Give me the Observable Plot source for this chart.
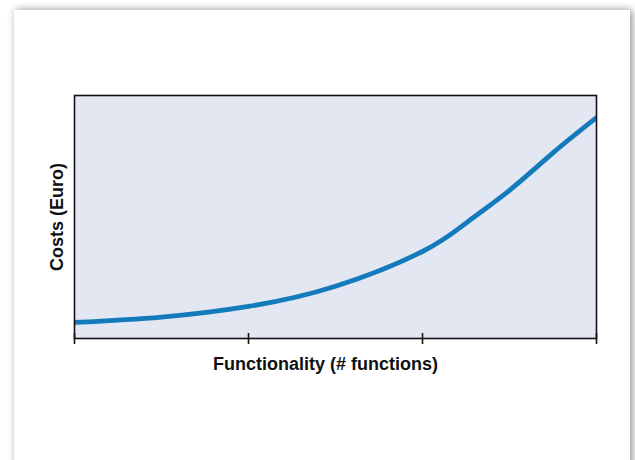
<!DOCTYPE html>
<html>
<head>
<meta charset="utf-8">
<script src="https://cdn.jsdelivr.net/npm/d3@7"></script>
<script src="https://cdn.jsdelivr.net/npm/@observablehq/plot@0.6"></script>
<style>
  html, body { margin: 0; padding: 0; background: #ffffff; }
  #page { position: relative; width: 635px; height: 460px; overflow: hidden; background: #ffffff; }
  #card { position: absolute; left: 14px; top: 10px; width: 616px; height: 480px; background: #ffffff;
          box-shadow: 2px 0 8px rgba(0,0,0,0.45); }
  #chart { position: absolute; left: 0; top: 0; }
</style>
</head>
<body>
<div id="page">
  <div id="card"></div>
  <div id="chart"></div>
</div>
<script>
// Functionality (# functions) on x, costs on y (arbitrary units)
const functionality = [0, 0.5, 1.0, 1.5, 2.0, 2.25, 2.5, 2.75, 3.0];
const costs = [6.6, 8.8, 13.2, 21.5, 35.8, 47.5, 61.0, 76.4, 90.9];
const xTicks = [0, 1, 2, 3];
const xLabel = "Functionality (# functions)";
const yLabel = "Costs (Euro)";

const data = functionality.map((x, i) => ({x, y: costs[i]}));

const chart = Plot.plot({
  width: 635,
  height: 460,
  marginLeft: 74,
  marginRight: 39,
  marginTop: 95,
  marginBottom: 122,
  style: {background: "transparent", fontFamily: "'Liberation Sans', Arial, sans-serif"},
  x: {domain: [0, 3], axis: null},
  y: {domain: [0, 100], axis: null},
  marks: [
    Plot.frame({fill: "#e3e7f2", stroke: null}),
    Plot.line(data, {x: "x", y: "y", stroke: "#137bbb", strokeWidth: 4.8, curve: "natural", clip: true}),
    Plot.frame({stroke: "#111", strokeWidth: 1.6}),
    Plot.axisX({ticks: xTicks, tickSize: 11, dy: -5, tickFormat: () => "", label: null, stroke: "#111", strokeWidth: 1.6}),
    Plot.text([xLabel], {text: d => d, frameAnchor: "bottom", dy: 31, dx: -10, fontSize: 18, fontWeight: "bold", fill: "#111"}),
    Plot.text([yLabel], {text: d => d, frameAnchor: "left", textAnchor: "middle", dx: -17, rotate: -90, fontSize: 18, fontWeight: "bold", fill: "#111"})
  ]
});
document.getElementById("chart").appendChild(chart);
</script>
</body>
</html>
